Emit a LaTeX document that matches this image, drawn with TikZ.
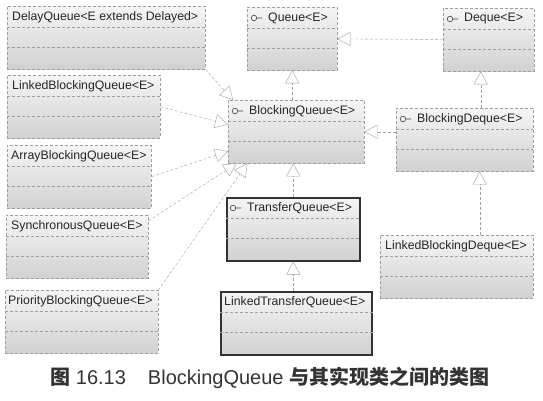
\documentclass[tikz,border=0pt]{standalone}
\usepackage{fontspec}
\setmainfont{Liberation Sans}
\newfontfamily\cjk{Noto Sans CJK SC}
\usetikzlibrary{arrows.meta, calc}

\tikzset{
  cls/.style={anchor=north west, minimum height=63pt, inner sep=0pt,
              draw=gray!75, densely dashed, top color=gray!8, bottom color=gray!36},
  boldcls/.style={cls, draw=black!80, solid, line width=1.6pt},
  ttl/.style={anchor=west, inner sep=0pt, font=\fontsize{12.3}{14}\selectfont, text=black!85},
  sep/.style={gray!75, densely dashed},
  impl/.style={gray!75, densely dashed, -{Triangle[open, length=13pt, width=14pt]}},
  ifc/.pic={\draw[black!75, solid, semithick] (0,0) circle (2.8) (2.8,0) -- (8,0);}
}

\begin{document}
\begin{tikzpicture}[x=1pt, y=-1pt]
\useasboundingbox (0,0) rectangle (543,401);

% classes on the left
\node[cls, minimum width=198pt] (dq)  at (7,6)   {};
\node[cls, minimum width=153pt] (lbq) at (7,75)  {};
\node[cls, minimum width=144pt] (abq) at (7,145) {};
\node[cls, minimum width=142pt] (sq)  at (6,215) {};
\node[cls, minimum width=153pt] (pbq) at (5,290) {};

% interfaces
\node[cls, minimum width=90pt]  (q)  at (247,7)   {};
\node[cls, minimum width=91pt]  (de) at (443,8)   {};
\node[cls, minimum width=136pt] (bq) at (228,100) {};
\node[cls, minimum width=137pt] (bd) at (396,108) {};
\node[boldcls, minimum width=133pt] (tq)  at (226,197) {};
\node[boldcls, minimum width=151pt] (ltq) at (220,291) {};
\node[cls, minimum width=153pt] (lbd) at (380,235) {};

% compartments
\foreach \n in {dq,lbq,abq,sq,pbq,q,de,bq,bd,tq,ltq,lbd}{
    \draw[sep] ($(\n.north west)+(0,21)$) -- ($(\n.north east)+(0,21)$);
    \draw[sep] ($(\n.north west)+(0,41)$) -- ($(\n.north east)+(0,41)$);
}

% titles
\node[ttl] at ($(dq.north west)+(5,11)$)  {DelayQueue<E extends Delayed>};
\node[ttl] at ($(lbq.north west)+(5,11)$) {LinkedBlockingQueue<E>};
\node[ttl] at ($(abq.north west)+(4,11)$) {ArrayBlockingQueue<E>};
\node[ttl] at ($(sq.north west)+(5,11)$)  {SynchronousQueue<E>};
\node[ttl] at ($(pbq.north west)+(3,11)$) {PriorityBlockingQueue<E>};
\node[ttl] at ($(ltq.north west)+(4,11)$) {LinkedTransferQueue<E>};
\node[ttl] at ($(lbd.north west)+(5,11)$) {LinkedBlockingDeque<E>};
\foreach \n/\t in {q/Queue, de/Deque, bq/BlockingQueue, bd/BlockingDeque, tq/TransferQueue}{
    \pic at ($(\n.north west)+(7,11)$) {ifc};
    \node[ttl] at ($(\n.north west)+(21,11)$) {\t<E>};
}

% realizations
\draw[impl] (de) -- (q);
\draw[impl] (bq.north -| q.south) -- (q.south);
\draw[impl] ([xshift=16pt]bd.north) -- ([xshift=16pt]bd.north |- de.south);
\draw[impl] (bq.east -| bd.west) -- (bq.east);
\draw[impl] (tq.north) -- (tq.north |- bq.south);
\draw[impl] (ltq.north -| tq.south) -- (tq.south);
\draw[impl] ([xshift=15pt]bd.south |- lbd.north) -- ([xshift=15pt]bd.south);
\draw[impl] (dq.south east) -- ([xshift=5pt]bq.north west);
\draw[impl] (lbq.east) -- (bq.174);
\draw[impl] (abq.east) -- (bq.196);
\draw[impl] (sq.20) -- (bq.208);
\draw[impl] (pbq.north east) -- (bq.213);

% caption
\node[font=\fontsize{20}{24}\selectfont, text=black!80] (cap) at (270,378)
    {{\cjk\bfseries 图}\ 16.13\hspace{22pt}BlockingQueue\hspace{6pt}{\cjk\bfseries 与其实现类之间的类图}};
\end{tikzpicture}
\end{document}
